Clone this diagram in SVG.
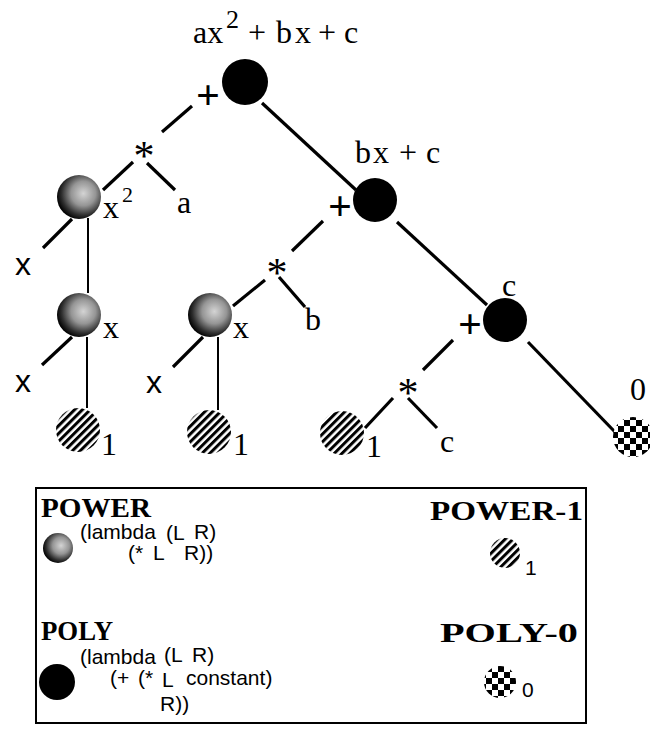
<svg xmlns="http://www.w3.org/2000/svg" width="650" height="730" viewBox="0 0 650 730">
<style>
.edge{stroke:#000;stroke-width:3.2;stroke-linecap:butt;fill:none}
.vert{stroke:#000;stroke-width:2;fill:none}
.serif{font-family:"Liberation Serif","Times New Roman",serif;fill:#000}
.sans{font-family:"Liberation Sans",Arial,sans-serif;fill:#000}
.lbl{font-size:32px}
.op{font-size:42px}
.plus{font-weight:bold}
.head{font-family:"Liberation Serif","Times New Roman",serif;font-weight:bold;font-size:27px;fill:#000}
.code{font-family:"Liberation Sans",Arial,sans-serif;font-size:21px;fill:#000}
.poly{fill:#000}
.power{fill:url(#gPower)}
.p1{fill:url(#pHatch)}
.p0{fill:url(#pCheck)}
</style>
<defs>
<radialGradient id="gPower" cx="0.6" cy="0.42" r="0.62">
<stop offset="0" stop-color="#d4d4d4"/>
<stop offset="0.45" stop-color="#959595"/>
<stop offset="0.8" stop-color="#2e2e2e"/>
<stop offset="1" stop-color="#000"/>
</radialGradient>
<pattern id="pHatch" width="5.5" height="5.5" patternUnits="userSpaceOnUse" patternTransform="rotate(45)">
<rect width="5.5" height="5.5" fill="#fff"/>
<rect width="3" height="5.5" fill="#000"/>
</pattern>
<pattern id="pCheck" width="12" height="12" patternUnits="userSpaceOnUse">
<rect width="12" height="12" fill="#fff"/>
<rect width="6" height="6" fill="#000"/>
<rect x="6" y="6" width="6" height="6" fill="#000"/>
</pattern>
</defs>

<g id="connectors">
<line class="edge" x1="192" y1="106" x2="162" y2="132"/>
<line class="edge" x1="147" y1="163" x2="175" y2="190"/>
<line class="edge" x1="133" y1="162" x2="103" y2="190"/>
<line class="edge" x1="72" y1="219" x2="43" y2="248"/>
<line class="vert" x1="88" y1="218" x2="88" y2="293"/>
<line class="edge" x1="72" y1="337" x2="42" y2="365"/>
<line class="vert" x1="87" y1="337" x2="87" y2="408"/>
<line class="edge" x1="203" y1="337" x2="173" y2="367"/>
<line class="vert" x1="218" y1="337" x2="218" y2="410"/>
<line class="edge" x1="233" y1="306" x2="265" y2="280"/>
<line class="edge" x1="292" y1="251" x2="323" y2="221"/>
<line class="edge" x1="279" y1="277" x2="305" y2="307"/>
<line class="edge" x1="262" y1="103" x2="356" y2="190"/>
<line class="edge" x1="397" y1="222" x2="487" y2="305"/>
<line class="edge" x1="528" y1="342" x2="615" y2="432"/>
<line class="edge" x1="453" y1="340" x2="423" y2="370"/>
<line class="edge" x1="393" y1="398" x2="365" y2="428"/>
<line class="edge" x1="408" y1="398" x2="437" y2="428"/>
</g>

<g id="n-root">
<circle class="poly" cx="245" cy="82" r="23"/>
<text class="serif lbl" y="43"><tspan x="193">ax</tspan><tspan x="226" y="28" font-size="26">2</tspan><tspan x="248" y="43">+</tspan><tspan x="276">b</tspan><tspan x="295">x</tspan><tspan x="318">+</tspan><tspan x="344">c</tspan></text>
<text class="serif op plus" x="208" y="109" text-anchor="middle">+</text>
</g>
<g id="n-mul-a">
<text class="serif op" x="144" y="170" text-anchor="middle">*</text>
<text class="serif lbl" x="177" y="213" font-size="34">a</text>
</g>
<g id="n-x2">
<circle class="power" cx="79" cy="197" r="22"/>
<text class="serif lbl" x="103" y="218">x<tspan x="122" y="202" font-size="22">2</tspan></text>
<text class="sans lbl" x="15" y="275" font-size="34">x</text>
</g>
<g id="n-x-left">
<circle class="power" cx="79" cy="315" r="22"/>
<text class="serif lbl" x="103" y="338">x</text>
<text class="sans lbl" x="15" y="392" font-size="34">x</text>
</g>
<g id="n-one-left">
<circle class="p1" cx="78" cy="430" r="22"/>
<text class="serif lbl" x="101" y="455" font-size="33">1</text>
</g>
<g id="n-bxc">
<circle class="poly" cx="375" cy="200" r="22"/>
<text class="serif lbl" y="163"><tspan x="355">b</tspan><tspan x="373">x</tspan><tspan x="399">+</tspan><tspan x="426">c</tspan></text>
<text class="serif op plus" x="340" y="220" text-anchor="middle">+</text>
</g>
<g id="n-mul-b">
<text class="serif op" x="277" y="287" text-anchor="middle">*</text>
<text class="serif lbl" x="305" y="330" font-size="34">b</text>
</g>
<g id="n-x-mid">
<circle class="power" cx="210" cy="315" r="22"/>
<text class="serif lbl" x="233" y="338">x</text>
<text class="sans lbl" x="146" y="393" font-size="34">x</text>
</g>
<g id="n-one-mid">
<circle class="p1" cx="209" cy="432" r="22"/>
<text class="serif lbl" x="233" y="455" font-size="33">1</text>
</g>
<g id="n-c">
<circle class="poly" cx="505" cy="320" r="22"/>
<text class="serif lbl" x="502" y="296">c</text>
<text class="serif op plus" x="470" y="338" text-anchor="middle">+</text>
</g>
<g id="n-mul-c">
<text class="serif op" x="408" y="407" text-anchor="middle">*</text>
<text class="serif lbl" x="440" y="452" font-size="34">c</text>
</g>
<g id="n-one-right">
<circle class="p1" cx="342" cy="433" r="22"/>
<text class="serif lbl" x="366" y="457" font-size="33">1</text>
</g>
<g id="n-zero">
<circle class="p0" cx="633" cy="437" r="20"/>
<text class="serif lbl" x="630" y="400" font-size="33">0</text>
</g>

<g id="legend">
<rect x="36" y="488" width="550" height="235" fill="none" stroke="#000" stroke-width="2"/>
<text class="head" x="41" y="517" textLength="110" lengthAdjust="spacingAndGlyphs">POWER</text>
<circle class="power" cx="58" cy="548" r="15"/>
<text class="code" x="80" y="539">(lambda</text>
<text class="code" x="166" y="540">(L</text>
<text class="code" x="194" y="539">R)</text>
<text class="code" x="128" y="560">(*</text>
<text class="code" x="153" y="560">L</text>
<text class="code" x="184" y="560">R))</text>

<text class="head" x="430" y="520" textLength="153" lengthAdjust="spacingAndGlyphs">POWER-1</text>
<circle class="p1" cx="505" cy="553" r="15"/>
<text class="code" x="525" y="575">1</text>

<text class="head" x="41" y="640" textLength="72" lengthAdjust="spacingAndGlyphs">POLY</text>
<circle class="poly" cx="57" cy="682" r="18"/>
<text class="code" x="80" y="664">(lambda</text>
<text class="code" x="164" y="662">(L</text>
<text class="code" x="192" y="662">R)</text>
<text class="code" x="110" y="685">(+</text>
<text class="code" x="138" y="685">(*</text>
<text class="code" x="162" y="687">L</text>
<text class="code" x="186" y="685">constant)</text>
<text class="code" x="160" y="711">R))</text>

<text class="head" x="440" y="642" textLength="138" lengthAdjust="spacingAndGlyphs">POLY-0</text>
<circle class="p0" cx="500" cy="682" r="16"/>
<text class="code" x="522" y="697">0</text>
</g>
</svg>
